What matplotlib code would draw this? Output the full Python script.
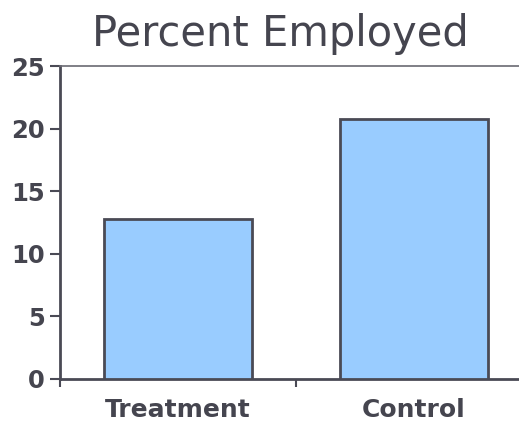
import matplotlib
matplotlib.use('Agg')

import numpy as np
import matplotlib.pyplot as plt

categories = ['Treatment', 'Control']
percent_employed = [12.75, 20.75]
yticks = [0, 5, 10, 15, 20, 25]

textColor = '#45454f'
edgeColor = '#4a4a55'
barColor = '#99ccff'

fig = plt.figure( figsize=( 5.19, 4.22 ), dpi=100 )
W, H = 519.0, 422.0
ax = fig.add_axes( [ 60 / W, 43 / H, 472 / W, 313 / H ] )

x = np.arange( len( categories ) )
ax.bar( x, percent_employed, width=0.63, color=barColor, edgecolor=edgeColor, linewidth=2, zorder=3 )

ax.set_xlim( -0.5, 1.5 )
ax.set_ylim( 0, 25 )
ax.set_yticks( yticks )
ax.set_yticklabels( [ str( v ) for v in yticks ], fontsize=17.5, fontweight='bold', color=textColor )

# category labels centred on bars, tick marks only at the category edges
ax.set_xticks( [ -0.5, 0.5, 1.5 ] )
ax.set_xticklabels( [ '', '', '' ] )
ax.set_xticks( x, minor=True )
ax.set_xticklabels( categories, minor=True, fontsize=18, fontweight='bold', color=textColor )
ax.tick_params( axis='x', which='minor', length=0, pad=14 )
ax.tick_params( axis='x', which='major', length=6, width=1.5, color=edgeColor, direction='out' )
ax.tick_params( axis='y', length=7, width=1.5, color=edgeColor, pad=4 )

for side in [ 'left', 'bottom' ]:
	ax.spines[ side ].set_color( edgeColor )
	ax.spines[ side ].set_linewidth( 2 )
ax.spines[ 'right' ].set_visible( False )
ax.spines[ 'top' ].set_color( '#6a6a72' )
ax.spines[ 'top' ].set_linewidth( 1.2 )

fig.text( 280 / W, ( H - 46 ) / H, 'Percent Employed', ha='center', va='baseline',
	fontsize=30, color=textColor )

fig.savefig( 'out.png', dpi=100 )
